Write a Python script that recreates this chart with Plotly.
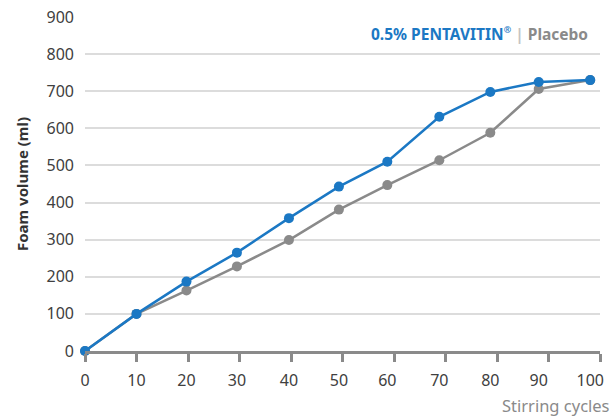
import plotly.graph_objects as go

# measurement points (stirring cycles) and foam volumes in ml
cycles = [0, 10, 19.7, 29.5, 39.6, 49.3, 58.7, 68.8, 78.7, 88.1, 98.1]
cycle_labels = ["0", "10", "20", "30", "40", "50", "60", "70", "80", "90", "100"]
axis_ticks = [0, 10, 20, 30, 40, 50, 60, 70, 80, 90, 100]
pentavitin = [0, 100, 187, 265, 358, 443, 510, 631, 698, 725, 730]
placebo = [0, 100, 163, 228, 299, 381, 447, 514, 588, 706, 730]

blue = "#1b78c4"
grey = "#8a8a8a"
font = "Noto Sans"

fig = go.Figure()
fig.add_trace(go.Scatter(
    x=cycles, y=placebo, mode="lines+markers", name="Placebo",
    line=dict(color=grey, width=2.5), marker=dict(color=grey, size=10),
    cliponaxis=False,
))
fig.add_trace(go.Scatter(
    x=cycles, y=pentavitin, mode="lines+markers", name="0.5% PENTAVITIN®",
    line=dict(color=blue, width=2.5), marker=dict(color=blue, size=10),
    cliponaxis=False,
))
# invisible trace to carry the label axis
fig.add_trace(go.Scatter(x=cycles, y=placebo, xaxis="x2", mode="none",
                         hoverinfo="skip", showlegend=False))

fig.update_layout(
    width=613, height=418,
    margin=dict(l=85, r=13, t=17, b=67, autoexpand=False),
    plot_bgcolor="white", paper_bgcolor="white",
    showlegend=False,
    font=dict(family=font, size=16, color="#404040"),
    xaxis=dict(
        range=[0, 100], tickvals=axis_ticks, showticklabels=False,
        showgrid=False, zeroline=False,
        showline=True, linecolor=grey, linewidth=2.5,
        ticks="outside", ticklen=8, tickcolor=grey, tickwidth=2.5,
    ),
    xaxis2=dict(
        overlaying="x", matches="x", side="bottom", tickvals=cycles, ticktext=cycle_labels,
        showgrid=False, zeroline=False, showline=False, ticks="",
        ticklabelstandoff=18,
    ),
    yaxis=dict(
        range=[0, 900], dtick=100, showgrid=True, gridcolor="#dcdcdc", gridwidth=1.5,
        zeroline=False, showline=False, ticklabelstandoff=10,
        title=dict(text="<b>Foam volume (ml)</b>", font=dict(size=15, color="#333333"), standoff=14),
    ),
    annotations=[
        dict(
            text=f"<b><span style='color:{blue}'>0.5% PENTAVITIN<sup><span style='font-size:9px'>®</span></sup></span>"
                 f" <span style='color:#c4c4c4'>|</span> <span style='color:{grey}'>Placebo</span></b>",
            xref="paper", yref="paper", x=0.98, y=0.95, xanchor="right", yanchor="middle",
            showarrow=False, font=dict(size=15.5),
        ),
        dict(
            text="Stirring cycles", xref="paper", yref="paper", x=1.023, y=-0.162,
            xanchor="right", yanchor="middle", showarrow=False,
            font=dict(size=16.5, color=grey),
        ),
    ],
)

fig.write_html("out.html", config={"displayModeBar": False},
               post_script="document.body.style.margin='0';")
